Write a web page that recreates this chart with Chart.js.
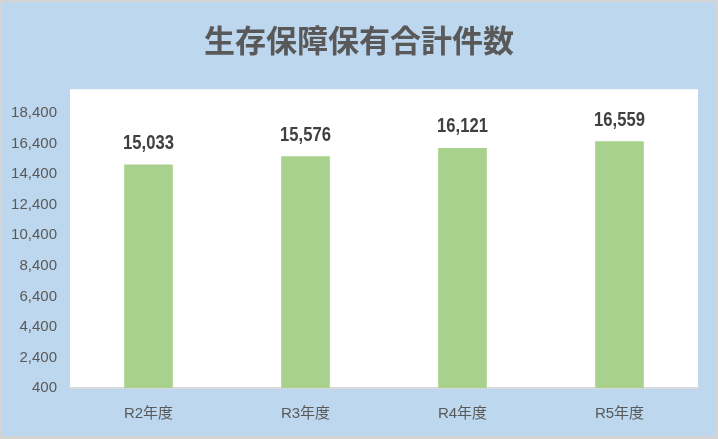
<!DOCTYPE html>
<html>
<head>
<meta charset="utf-8">
<script src="https://cdn.jsdelivr.net/npm/chart.js@4"></script>
<style>
  html, body { margin: 0; padding: 0; background: #d4d4d4; }
  #wrap { width: 718px; height: 439px; }
</style>
</head>
<body>
<div id="wrap"><canvas id="hoyuChart" width="718" height="439"></canvas></div>
<script>
const categories = ['R2年度', 'R3年度', 'R4年度', 'R5年度'];
const counts = [15033, 15576, 16121, 16559];
const yTicks = [400, 2400, 4400, 6400, 8400, 10400, 12400, 14400, 16400, 18400];

const fmt = v => v.toLocaleString('en-US');

// 背景（枠・水色・白いプロット領域）
const backdrop = {
  id: 'backdrop',
  beforeDraw(chart) {
    const { ctx, width, height, chartArea: a } = chart;
    ctx.save();
    ctx.fillStyle = '#d4d4d4';
    ctx.fillRect(0, 0, width, height);
    ctx.fillStyle = '#bdd7ee';
    ctx.fillRect(2, 2, width - 5, height - 5);
    ctx.fillStyle = '#ffffff';
    ctx.fillRect(a.left, a.top, a.right - a.left, a.bottom - a.top);
    ctx.restore();
  }
};

// 棒の上に値を表示（細めの字幅にする）
const valueLabels = {
  id: 'valueLabels',
  afterDatasetsDraw(chart) {
    const { ctx } = chart;
    const meta = chart.getDatasetMeta(0);
    const sx = 0.83;
    ctx.save();
    ctx.fillStyle = '#404040';
    ctx.font = 'bold 20px "Liberation Sans", sans-serif';
    ctx.textAlign = 'center';
    ctx.textBaseline = 'bottom';
    meta.data.forEach((bar, i) => {
      ctx.save();
      ctx.translate(bar.x, bar.y - 11);
      ctx.scale(sx, 1);
      ctx.fillText(fmt(counts[i]), 0, 0);
      ctx.restore();
    });
    ctx.restore();
  }
};

new Chart(document.getElementById('hoyuChart'), {
  type: 'bar',
  data: {
    labels: categories,
    datasets: [{
      data: counts,
      backgroundColor: '#a9d18e',
      categoryPercentage: 1,
      barPercentage: 0.31
    }]
  },
  options: {
    responsive: false,
    animation: false,
    layout: { padding: 0 },
    plugins: {
      legend: { display: false },
      tooltip: { enabled: false },
      title: {
        display: true,
        text: '生存保障保有合計件数',
        color: '#595959',
        font: { family: '"Noto Sans CJK JP", sans-serif', size: 31, weight: 'bold', lineHeight: 1.2 },
        padding: { top: 22, bottom: 30 }
      }
    },
    scales: {
      x: {
        grid: { display: false, drawTicks: false },
        border: { display: true, color: '#d9d9d9', width: 2 },
        ticks: {
          color: '#595959',
          padding: 17,
          font: { family: '"Liberation Sans", "Noto Sans CJK JP", sans-serif', size: 15 }
        },
        afterFit(axis) { axis.height = 51; }
      },
      y: {
        min: 400,
        max: 19970,
        grid: { display: false, drawTicks: false },
        border: { display: false },
        afterBuildTicks(axis) { axis.ticks = yTicks.map(v => ({ value: v })); },
        ticks: {
          color: '#595959',
          padding: 13,
          callback: v => fmt(v),
          font: { family: '"Liberation Sans", sans-serif', size: 15 }
        },
        afterFit(axis) { axis.width = 70; }
      },
      // 右側の余白用（表示なし）
      yRight: {
        position: 'right',
        grid: { display: false, drawTicks: false },
        border: { display: false },
        ticks: { display: false },
        afterFit(axis) { axis.width = 20; }
      }
    }
  },
  plugins: [backdrop, valueLabels]
});
</script>
</body>
</html>
